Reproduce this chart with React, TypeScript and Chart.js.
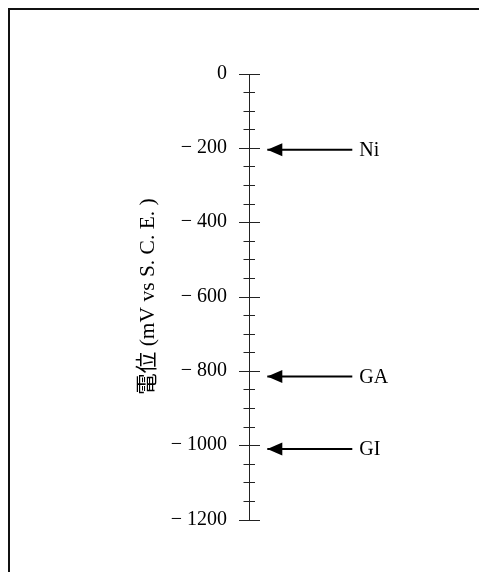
import React, { useEffect, useRef } from 'react';
import { Chart, registerables } from 'chart.js';

Chart.register(...registerables);

// ---- data ----
const MATERIALS = ['Ni', 'GA', 'GI'];
const POTENTIALS = [-205, -815, -1010];
const AXIS_MIN = -1200;
const AXIS_MAX = 0;
const MAJOR_STEP = 200;
const MINOR_STEP = 50;
const AXIS_TITLE = '電位 (mV vs S. C. E. )';

// ---- style constants ----
const FONT_FAMILY = '"Liberation Serif", "Noto Sans CJK JP", serif';
const ARROW_TIP_X = 8.65;
const ARROW_END_X = 51.15;
const TITLE_SIZE = 21.5;
const PAD_LEFT = 138 - (TITLE_SIZE * 1.2) / 2;

function formatTick(v: number): string {
  if (v === 0) return '0';
  return (v < 0 ? '\u2212 ' : '') + Math.abs(v);
}

const potentialAxisPlugin = {
  id: 'potentialAxis',
  afterDatasetsDraw(chart: any) {
    const { ctx } = chart;
    const ys = chart.scales.y;
    const xs = chart.scales.x;
    const ax = Math.round(xs.getPixelForValue(0)) - 0.5;
    ctx.save();
    ctx.strokeStyle = '#222';
    ctx.lineWidth = 1;
    ctx.beginPath();
    const top = Math.round(ys.getPixelForValue(AXIS_MAX)) + 0.5;
    const bottom = Math.round(ys.getPixelForValue(AXIS_MIN)) + 0.5;
    ctx.moveTo(ax, top);
    ctx.lineTo(ax, bottom);
    ys.ticks.forEach((t: any) => {
      const py = Math.round(ys.getPixelForValue(t.value)) + 0.5;
      const major = t.value % MAJOR_STEP === 0;
      const l = major ? 10.5 : 6;
      const r = major ? 10.5 : 5.5;
      ctx.moveTo(ax - l, py);
      ctx.lineTo(ax + r, py);
    });
    ctx.stroke();

    chart.data.datasets.forEach((ds: any, i: number) => {
      const meta = chart.getDatasetMeta(i);
      const p0 = meta.data[0];
      const p1 = meta.data[1];
      ctx.fillStyle = '#000';
      ctx.beginPath();
      ctx.moveTo(p0.x, p0.y);
      ctx.lineTo(p0.x + 15, p0.y - 6.5);
      ctx.lineTo(p0.x + 15, p0.y + 6.5);
      ctx.closePath();
      ctx.fill();
      ctx.font = `20px ${FONT_FAMILY}`;
      ctx.textAlign = 'left';
      ctx.textBaseline = 'middle';
      ctx.fillText(ds.label, p1.x + 7, p0.y + 1);
    });
    ctx.restore();
  },
};

export default function App() {
  const ref = useRef<HTMLCanvasElement>(null);

  useEffect(() => {
    const datasets = MATERIALS.map((name, i) => ({
      label: name,
      data: [
        { x: ARROW_TIP_X, y: POTENTIALS[i] },
        { x: ARROW_END_X, y: POTENTIALS[i] },
      ],
      showLine: true,
      borderColor: '#000',
      backgroundColor: '#000',
      borderWidth: 2,
      pointRadius: 0,
      pointHoverRadius: 0,
    }));

    const chart = new Chart(ref.current as HTMLCanvasElement, {
      type: 'scatter',
      data: { datasets },
      options: {
        responsive: false,
        maintainAspectRatio: false,
        animation: false,
        events: [],
        layout: { padding: { left: PAD_LEFT, right: 37, top: 63.5, bottom: 60.5 } },
        plugins: {
          legend: { display: false },
          tooltip: { enabled: false },
        },
        scales: {
          x: { type: 'linear', min: 0, max: 100, display: false },
          y: {
            type: 'linear',
            min: AXIS_MIN,
            max: AXIS_MAX,
            afterFit: (s: any) => {
              s.width = 240 - PAD_LEFT;
            },
            grid: { display: false, drawTicks: false },
            border: { display: false },
            ticks: {
              stepSize: MINOR_STEP,
              autoSkip: false,
              padding: 23,
              color: '#000',
              font: { family: FONT_FAMILY, size: 20 },
              callback: (v: any) => (Number(v) % MAJOR_STEP === 0 ? formatTick(Number(v)) : ''),
            },
            title: {
              display: true,
              text: AXIS_TITLE,
              color: '#000',
              padding: 0,
              font: { family: FONT_FAMILY, size: TITLE_SIZE },
            },
          },
        },
      },
      plugins: [potentialAxisPlugin],
    } as any);
    return () => chart.destroy();
  }, []);

  return (
    <div
      style={{
        width: 479,
        height: 572,
        marginBottom: -8,
        boxSizing: 'border-box',
        borderTop: '2px solid #111',
        borderLeft: '2px solid #111',
        background: '#fff',
      }}
    >
      <canvas ref={ref} width={477} height={570} style={{ display: 'block' }} />
    </div>
  );
}
